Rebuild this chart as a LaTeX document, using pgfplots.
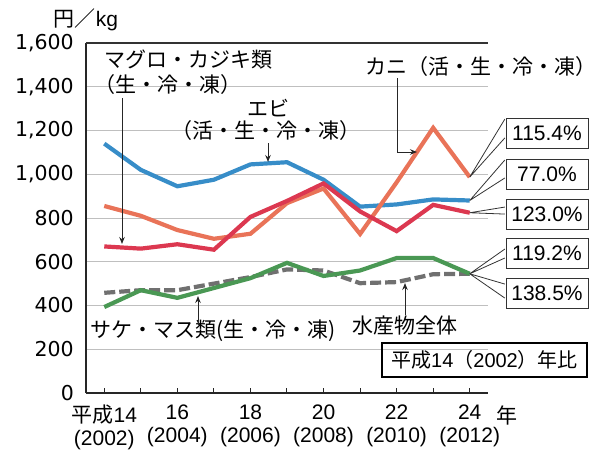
\documentclass[border=0pt]{standalone}
\usepackage{fontspec}
\setmainfont{Liberation Sans}
\newfontfamily\jp{Noto Sans CJK JP}
\newfontfamily\dv{DejaVu Sans}
\usepackage{pgfplots}
\pgfplotsset{compat=1.18}
\usetikzlibrary{arrows.meta}

\definecolor{cBlue}{RGB}{55,141,200}
\definecolor{cOrange}{RGB}{233,115,88}
\definecolor{cRed}{RGB}{220,56,80}
\definecolor{cGreen}{RGB}{74,152,84}
\definecolor{cGray}{RGB}{112,112,112}

\newcommand{\fs}{\fontsize{21}{23}\selectfont}

\begin{document}
\begin{tikzpicture}[font=\fs]
\path[use as bounding box] (0,0) rectangle (597pt,451pt);
\begin{axis}[
  at={(86pt,58pt)}, anchor=south west, scale only axis,
  width=402pt, height=350pt,
  xmin=2001.5, xmax=2012.5, ymin=0, ymax=1600,
  axis x line*=bottom, axis y line*=left,
  axis line style={line width=1.3pt, black!85},
  xtick={2002,...,2012},
  xticklabels={{{\jp 平成}14\\(2002)},{},{16\\(2004)},{},{18\\(2006)},{},{20\\(2008)},{},{22\\(2010)},{},{24\\(2012)}},
  xticklabel style={align=center, font=\fs, yshift=-8.5pt},
  xtick align=inside, major tick length=5pt,
  xtick style={line width=1pt, black!85},
  ytick={0,200,...,1600},
  ytick style={draw=none},
  yticklabel style={font=\dv\fontsize{20.5}{23}\selectfont, inner sep=0pt, xshift=-12pt},
  /pgf/number format/assume math mode=true,
  /pgf/number format/1000 sep={,},
  ymajorgrids, grid style={line width=1pt, black!25},
  clip=false,
]
% 水産物全体
\addplot[cGray, line width=4.2pt, dash pattern=on 11pt off 4pt] coordinates {
  (2002,458) (2003,470) (2004,470) (2005,500) (2006,530) (2007,565)
  (2008,560) (2009,502) (2010,507) (2011,543) (2012,545)};
% サケ・マス類
\addplot[cGreen, line width=4.2pt] coordinates {
  (2002,393) (2003,470) (2004,435) (2005,480) (2006,525) (2007,595)
  (2008,535) (2009,560) (2010,617) (2011,617) (2012,545)};
% マグロ・カジキ類
\addplot[cBlue, line width=4.2pt] coordinates {
  (2002,1140) (2003,1020) (2004,945) (2005,975) (2006,1045) (2007,1055)
  (2008,975) (2009,852) (2010,862) (2011,885) (2012,880)};
% カニ
\addplot[cOrange, line width=4.2pt] coordinates {
  (2002,855) (2003,810) (2004,745) (2005,705) (2006,728) (2007,868)
  (2008,935) (2009,727) (2010,963) (2011,1212) (2012,987)};
% エビ
\addplot[cRed, line width=4.2pt] coordinates {
  (2002,670) (2003,660) (2004,680) (2005,655) (2006,805) (2007,878)
  (2008,958) (2009,830) (2010,740) (2011,860) (2012,824)};

\draw[line width=1.2pt, black!80] (rel axis cs:0,1) -- (rel axis cs:1,1);

% leaders to the ratio boxes
\tikzset{leader/.style={line width=0.8pt, black!80}}
\draw[leader] (axis cs:2012,987) -- (axis cs:2012.96,1252) (axis cs:2012,987) -- (axis cs:2012.96,1166);
\draw[leader] (axis cs:2012,880) -- (axis cs:2012.96,1065) (axis cs:2012,880) -- (axis cs:2012.96,983);
\draw[leader] (axis cs:2012,824) -- (axis cs:2012.96,850) (axis cs:2012,824) -- (axis cs:2012.96,818);
\draw[leader] (axis cs:2012,545) -- (axis cs:2012.96,658) (axis cs:2012,545) -- (axis cs:2012.96,617);
\draw[leader] (axis cs:2012,545) -- (axis cs:2012.96,498) (axis cs:2012,545) -- (axis cs:2012.96,434);
\end{axis}

\begin{scope}[shift={(0pt,451pt)}, x=1pt, y=-1pt,
  every node/.style={inner sep=0pt},
  arr/.style={line width=1pt, black!85, -{Stealth[length=7pt,width=5.5pt]}}]
\node at (86,20) {{\jp 円／}kg};
\node at (507,415) {\jp 年};

\node[anchor=west] at (104,60) {\jp マグロ・カジキ類};
\node[anchor=west] at (94,85) {\jp （生・冷・凍）};
\draw[arr] (122,98) -- (122,244);

\node at (268,108) {\jp エビ};
\node at (266,131) {\jp （活・生・冷・凍）};
\draw[arr] (268,143) -- (268,162);

\node[anchor=west] at (365,67) {\jp カニ（活・生・冷・凍）};
\draw[arr] (397,78) -- (397,152) -- (417,152);

\node[anchor=west] at (90,331) {\jp サケ・マス類(生・冷・凍)};
\draw[arr] (198,325) -- (198,296);

\node at (405,326) {\jp 水産物全体};
\draw[arr] (405,315) -- (405,283);

\node[draw=black, line width=2pt, minimum width=205pt, minimum height=34pt,
  font=\fontsize{20}{22}\selectfont] at (484.5,360)
  {{\jp 平成}14{\jp （}2002{\jp ）年比}};

\foreach \c/\t in {133/115.4, 174/77.0, 214/123.0, 253/119.2, 293/138.5}
  \node[draw=black!80, line width=1pt, minimum width=82pt, minimum height=30pt,
    fill=white] at (547,\c) {\t\%};
\end{scope}
\end{tikzpicture}
\end{document}
